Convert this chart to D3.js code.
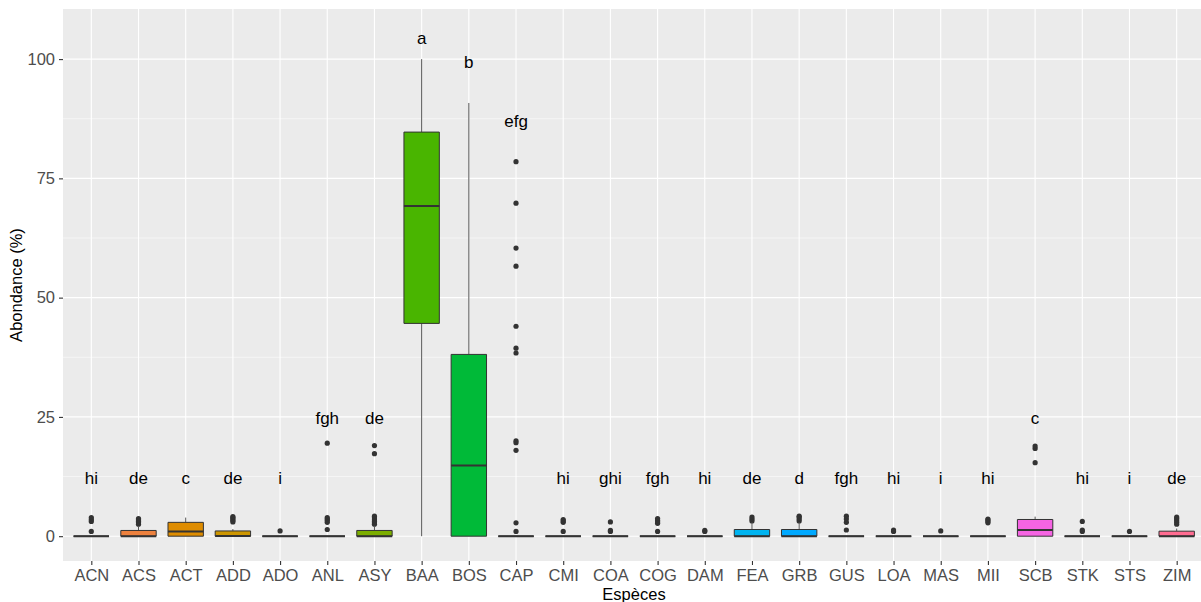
<!DOCTYPE html>
<html>
<head>
<meta charset="utf-8">
<script src="https://cdn.jsdelivr.net/npm/d3@7"></script>
<style>
  body { margin: 0; background: #fff; }
  text { font-family: "Liberation Sans", Arial, sans-serif; }
</style>
</head>
<body>
<div id="chart"></div>
<script>
// boxplot of abundance per species, ggplot look

var species = ["ACN","ACS","ACT","ADD","ADO","ANL","ASY","BAA","BOS","CAP","CMI","COA",
               "COG","DAM","FEA","GRB","GUS","LOA","MAS","MII","SCB","STK","STS","ZIM"];

// box stats
var q1     = [0, 0, 0,   0,    0, 0, 0,   44.6, 0,    0, 0, 0, 0, 0, 0,   0,   0, 0, 0, 0, 0,   0, 0, 0];
var median = [0, 0, 1.0, 0.05, 0, 0, 0,   69.2, 14.8, 0, 0, 0, 0, 0, 0,   0,   0, 0, 0, 0, 1.3, 0, 0, 0];
var q3     = [0, 1.2, 2.9, 1.1, 0, 0, 1.2, 84.7, 38.1, 0, 0, 0, 0, 0, 1.4, 1.4, 0, 0, 0, 0, 3.5, 0, 0, 1.05];
var whiskLo = [0, 0, 0, 0, 0, 0, 0, 0, 0, 0, 0, 0, 0, 0, 0, 0, 0, 0, 0, 0, 0, 0, 0, 0];
var whiskHi = [0, 2.1, 3.9, 1.5, 0, 0, 2.2, 100, 90.8, 0, 0, 0, 0, 0, 2.9, 2.9, 0, 0, 0, 0, 4.1, 0, 0, 1.6];

var outliers = [
  [1.0, 3.1, 3.5, 3.9],
  [2.5, 2.8, 3.1, 3.4, 3.7],
  [],
  [3.0, 3.3, 3.6, 3.9, 4.1],
  [1.1],
  [1.4, 2.9, 3.3, 3.6, 3.9, 19.5],
  [2.5, 2.8, 3.1, 3.4, 3.8, 4.2, 17.3, 19.0],
  [],
  [],
  [1.0, 2.8, 18.0, 19.6, 20.0, 38.4, 39.4, 44.0, 56.6, 60.4, 69.8, 78.5],
  [1.0, 2.9, 3.2, 3.5],
  [1.0, 1.2, 3.0],
  [1.0, 2.7, 3.0, 3.3, 3.7],
  [1.0, 1.2],
  [3.2, 3.6, 4.0],
  [3.2, 3.6, 4.0, 4.2],
  [1.3, 2.9, 3.6, 4.2],
  [1.0, 1.3],
  [1.1],
  [2.8, 3.1, 3.4, 3.6],
  [15.4, 18.4, 18.9],
  [1.0, 1.3, 3.1],
  [1.0],
  [2.5, 2.9, 3.3, 3.7, 4.0]
];

var groupLetters = ["hi","de","c","de","i","fgh","de","a","b","efg","hi","ghi",
                    "fgh","hi","de","d","fgh","hi","i","hi","c","hi","i","de"];
var letterY = [12.1, 12.1, 12.1, 12.1, 12.1, 24.7, 24.7, 104.5, 99.4, 87.1, 12.1, 12.1,
               12.1, 12.1, 12.1, 12.1, 12.1, 12.1, 12.1, 12.1, 24.7, 12.1, 12.1, 12.1];

var yTicks = [0, 25, 50, 75, 100];
var yMinor = [12.5, 37.5, 62.5, 87.5];

// R's hcl() (polar Luv) -> hex, so the fills match scales::hue_pal
function hcl(h, c, l) {
  var hr = h * Math.PI / 180;
  var U = c * Math.cos(hr), V = c * Math.sin(hr);
  var Xn = 95.047, Yn = 100, Zn = 108.883;
  var Y = l > 8 ? Yn * Math.pow((l + 16) / 116, 3) : Yn * l / 903.3;
  var den = Xn + 15 * Yn + 3 * Zn;
  var un = 4 * Xn / den, vn = 9 * Yn / den;
  var u = U / (13 * l) + un, v = V / (13 * l) + vn;
  var X = 9 * Y * u / (4 * v);
  var Z = Y * (12 - 3 * u - 20 * v) / (4 * v);
  X /= 100; Y /= 100; Z /= 100;
  var r =  3.2404542 * X - 1.5371385 * Y - 0.4985314 * Z;
  var g = -0.9692660 * X + 1.8760108 * Y + 0.0415560 * Z;
  var b =  0.0556434 * X - 0.2040259 * Y + 1.0572252 * Z;
  function gam(t) {
    t = t <= 0.0031308 ? 12.92 * t : 1.055 * Math.pow(t, 1 / 2.4) - 0.055;
    return Math.round(Math.max(0, Math.min(1, t)) * 255);
  }
  return d3.rgb(gam(r), gam(g), gam(b)).formatHex();
}
var fills = species.map(function(d, i) { return hcl(15 + 15 * i, 100, 65); });

var w = 1201, h = 602;
var pL = 63, pR = 1205, pT = 9, pB = 561;

var x = d3.scalePoint().domain(species).range([pL, pR]).padding(0.6);
var y = d3.scaleLinear().domain([-5.2, 110.5]).range([pB, pT]);
var bw = x.step() * 0.75;

var svg = d3.select('#chart').append('svg')
  .attr('width', w)
  .attr('height', h)
  .style('display', 'block');

svg.append('rect').attr('width', w).attr('height', h).attr('fill', '#fff');

// panel
svg.append('rect')
  .attr('x', pL).attr('y', pT)
  .attr('width', pR - pL).attr('height', pB - pT)
  .attr('fill', '#EBEBEB');

svg.append('g').selectAll('line').data(yMinor).enter().append('line')
  .attr('x1', pL).attr('x2', pR)
  .attr('y1', function(d) { return y(d); }).attr('y2', function(d) { return y(d); })
  .attr('stroke', '#fff').attr('stroke-width', 0.55);

svg.append('g').selectAll('line').data(yTicks).enter().append('line')
  .attr('x1', pL).attr('x2', pR)
  .attr('y1', function(d) { return y(d); }).attr('y2', function(d) { return y(d); })
  .attr('stroke', '#fff').attr('stroke-width', 1.1);

svg.append('g').selectAll('line').data(species).enter().append('line')
  .attr('y1', pT).attr('y2', pB)
  .attr('x1', function(d) { return x(d); }).attr('x2', function(d) { return x(d); })
  .attr('stroke', '#fff').attr('stroke-width', 1.1);

// boxes
var boxes = svg.append('g').selectAll('g').data(species).enter().append('g');

boxes.each(function(d, i) {
  var g = d3.select(this);
  var cx = x(d);
  // outliers
  g.selectAll('circle').data(outliers[i]).enter().append('circle')
    .attr('cx', cx).attr('cy', function(v) { return y(v); })
    .attr('r', 2.6).attr('fill', '#333333');
  // whiskers
  g.append('line').attr('x1', cx).attr('x2', cx)
    .attr('y1', y(q3[i])).attr('y2', y(whiskHi[i]))
    .attr('stroke', '#555').attr('stroke-width', 1);
  g.append('line').attr('x1', cx).attr('x2', cx)
    .attr('y1', y(q1[i])).attr('y2', y(whiskLo[i]))
    .attr('stroke', '#555').attr('stroke-width', 1);
  // box (path so flat boxes still draw)
  var x0 = cx - bw / 2, x1 = cx + bw / 2;
  g.append('path')
    .attr('d', 'M' + x0 + ',' + y(q1[i]) + 'H' + x1 + 'V' + y(q3[i]) + 'H' + x0 + 'Z')
    .attr('fill', fills[i])
    .attr('stroke', '#333333').attr('stroke-width', 1);
  g.append('line').attr('x1', x0).attr('x2', x1)
    .attr('y1', y(median[i])).attr('y2', y(median[i]))
    .attr('stroke', '#333333').attr('stroke-width', 2);
});

// group letters
svg.append('g').selectAll('text').data(species).enter().append('text')
  .attr('x', function(d) { return x(d); })
  .attr('y', function(d, i) { return y(letterY[i]); })
  .attr('dy', '0.35em')
  .attr('text-anchor', 'middle')
  .attr('font-size', 17)
  .attr('fill', '#000')
  .text(function(d, i) { return groupLetters[i]; });

// axes
var xAxis = svg.append('g')
  .attr('transform', 'translate(0,' + pB + ')')
  .call(d3.axisBottom(x).tickSize(4).tickPadding(4));
var yAxis = svg.append('g')
  .attr('transform', 'translate(' + pL + ',0)')
  .call(d3.axisLeft(y).tickValues(yTicks).tickSize(4).tickPadding(4));

[xAxis, yAxis].forEach(function(a) {
  a.select('.domain').remove();
  a.selectAll('line').attr('stroke', '#333333').attr('stroke-width', 1.1);
  a.selectAll('text').attr('fill', '#4D4D4D').attr('font-size', 16.5)
    .style('font-family', '"Liberation Sans", Arial, sans-serif');
});

svg.append('text')
  .attr('x', (pL + pR) / 2).attr('y', 600)
  .attr('text-anchor', 'middle')
  .attr('font-size', 16.5)
  .text('Espèces');

svg.append('text')
  .attr('transform', 'translate(22,' + (pT + pB) / 2 + ') rotate(-90)')
  .attr('text-anchor', 'middle')
  .attr('font-size', 16.5)
  .text('Abondance (%)');
</script>
</body>
</html>
